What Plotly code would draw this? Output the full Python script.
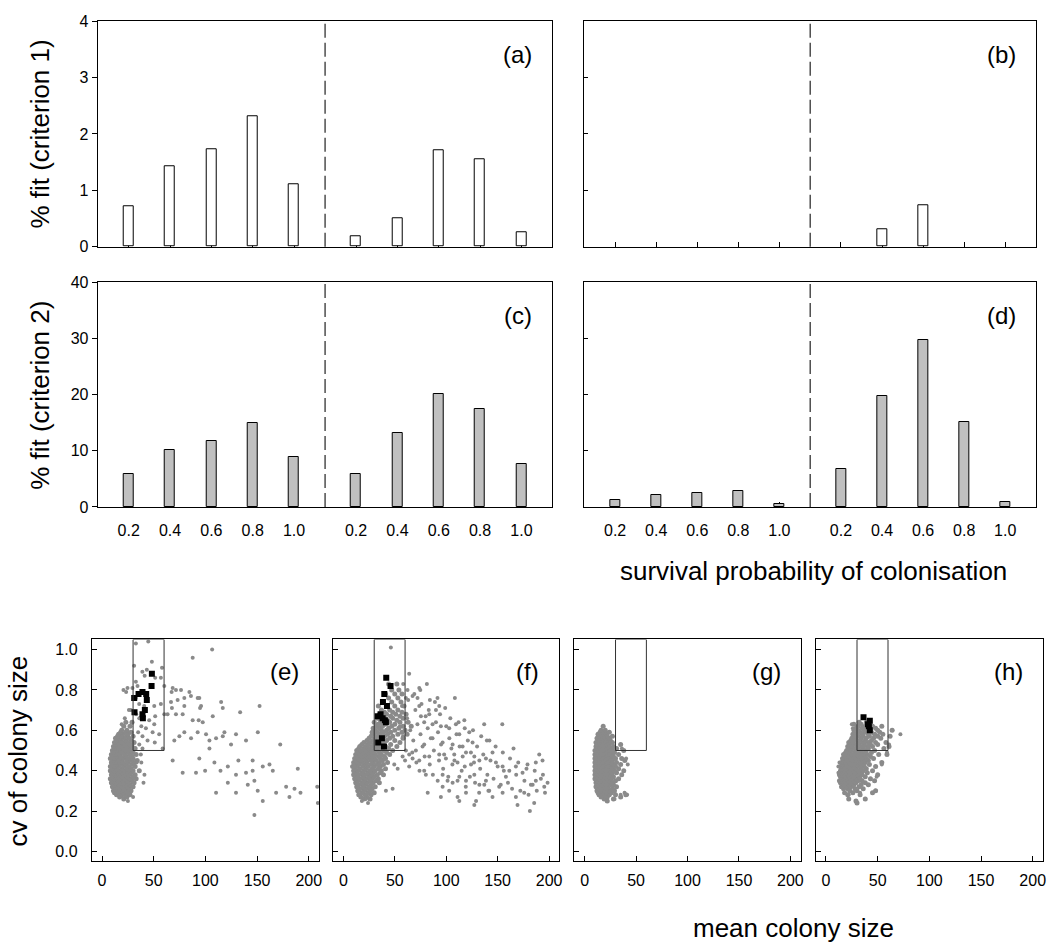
import plotly.graph_objects as go

W, H = 1053, 950
FONT = "Liberation Sans, Arial, sans-serif"

# ---------------------------------------------------------------- bar data
prob_labels = ["0.2", "0.4", "0.6", "0.8", "1.0"]
# each panel: five survival probabilities for the left group, then five for the right group
crit1_a = [0.71, 1.42, 1.72, 2.32, 1.10, 0.19, 0.51, 1.71, 1.55, 0.25]
crit1_b = [0.0, 0.0, 0.0, 0.0, 0.0, 0.0, 0.30, 0.74, 0.0, 0.0]
crit2_c = [5.8, 10.1, 11.7, 15.0, 8.9, 5.9, 13.2, 20.1, 17.5, 7.6]
crit2_d = [1.3, 2.1, 2.4, 2.9, 0.5, 6.7, 19.7, 29.7, 15.1, 0.9]

# ---------------------------------------------------------------- scatter data
# acceptance window for the mean / cv of colony size
window_mean = [30, 60]
window_cv_min = 0.5

# dense clouds, stored as cv -> list of mean colony sizes
e_core = {
    0.26: [21], 0.27: [17, 24], 0.28: [14, 19, 22, 27], 0.29: [12, 16, 20, 25],
    0.30: [11, 15, 18, 23, 28], 0.31: [13, 17, 21, 26], 0.32: [10, 14, 19, 24, 30],
    0.33: [12, 16, 22, 27], 0.34: [9, 13, 18, 21, 25, 31], 0.35: [11, 15, 20, 24, 29],
    0.36: [8, 12, 17, 22, 27, 33], 0.37: [10, 14, 19, 24, 30], 0.38: [9, 13, 16, 21, 26, 32],
    0.39: [11, 15, 19, 23, 28], 0.40: [8, 12, 17, 22, 25, 30, 36], 0.41: [10, 14, 19, 24, 28],
    0.42: [8, 12, 16, 21, 26, 32], 0.43: [10, 14, 18, 23, 29], 0.44: [9, 13, 17, 20, 25, 31],
    0.45: [11, 15, 19, 24, 28, 34], 0.46: [8, 12, 16, 21, 26, 30], 0.47: [10, 14, 18, 23, 29],
    0.48: [9, 13, 17, 22, 27, 33], 0.49: [11, 15, 20, 25, 30], 0.50: [10, 14, 18, 23, 28],
    0.51: [12, 16, 21, 26, 32], 0.52: [11, 15, 19, 24, 29], 0.53: [13, 17, 22, 27],
    0.54: [12, 16, 20, 25, 31], 0.55: [14, 18, 23, 28], 0.56: [13, 17, 21, 26],
    0.57: [15, 19, 24, 30], 0.58: [16, 20, 25], 0.59: [18, 23, 28], 0.60: [19, 24],
    0.62: [21, 27], 0.64: [23, 29],
}
e_spread = [
    (44.7, 1.04), (32.7, 1.03), (106.5, 1.00), (87.7, 0.96), (48.2, 0.94), (58.0, 0.91),
    (31.0, 0.92), (43.3, 0.90), (39.0, 0.89), (51.4, 0.86), (56.9, 0.86), (41.2, 0.87),
    (32.7, 0.84), (24.6, 0.81), (29.4, 0.81), (34.3, 0.82), (60.2, 0.82), (68.3, 0.81),
    (71.5, 0.80), (76.4, 0.80), (84.5, 0.79), (67.3, 0.79), (79.6, 0.76), (86.0, 0.77),
    (94.1, 0.76), (92.5, 0.76), (73.1, 0.75), (66.7, 0.74), (56.9, 0.73), (50.5, 0.72),
    (40.8, 0.72), (35.9, 0.73), (27.8, 0.70), (20.7, 0.80), (23.3, 0.79), (115.2, 0.74),
    (116.8, 0.71), (107.1, 0.67), (95.8, 0.72), (94.8, 0.71), (79.6, 0.72), (67.6, 0.71),
    (71.5, 0.68), (78.0, 0.68), (87.7, 0.65), (93.5, 0.65), (97.4, 0.64), (133.6, 0.69),
    (152.4, 0.72), (150.7, 0.59), (172.4, 0.53), (63.4, 0.68), (60.2, 0.68), (51.4, 0.67),
    (45.6, 0.65), (50.5, 0.63), (42.4, 0.61), (34.9, 0.59), (48.9, 0.59), (55.3, 0.58),
    (39.1, 0.57), (44.0, 0.55), (36.0, 0.53), (51.0, 0.54), (31.0, 0.51), (58.6, 0.51),
    (69.9, 0.55), (74.8, 0.57), (79.6, 0.59), (86.1, 0.56), (92.5, 0.59), (100.6, 0.58),
    (103.9, 0.55), (110.3, 0.56), (118.4, 0.59), (124.8, 0.53), (129.6, 0.58), (139.3, 0.55),
    (116.8, 0.57), (68.3, 0.45), (78.0, 0.39), (90.9, 0.39), (94.1, 0.46), (108.7, 0.44),
    (114.6, 0.40), (121.7, 0.42), (121.7, 0.34), (110.3, 0.29), (129.6, 0.29), (131.9, 0.45),
    (139.3, 0.39), (145.7, 0.45), (145.7, 0.40), (147.4, 0.35), (150.6, 0.30), (155.5, 0.25),
    (147.4, 0.18), (155.5, 0.42), (162.0, 0.43), (165.2, 0.40), (168.4, 0.29), (178.1, 0.32),
    (181.3, 0.27), (186.2, 0.31), (189.4, 0.41), (192.0, 0.29), (208.2, 0.32), (208.8, 0.24),
    (141.0, 0.33), (129.6, 0.38), (99.7, 0.40), (103.9, 0.51), (35.9, 0.40), (40.1, 0.34),
    (33.5, 0.44), (37.5, 0.48), (39.1, 0.51), (32.7, 0.76), (22.0, 0.66), (26.0, 0.70),
    (19.0, 0.63), (38.0, 0.62), (29.0, 0.64), (33.0, 0.68), (42.0, 0.70), (36.0, 0.66),
    (30.0, 0.27), (25.0, 0.25), (38.0, 0.44), (41.0, 0.38),
]
e_hits = [
    (48.2, 0.88), (47.9, 0.82), (31.1, 0.76), (35.3, 0.78), (39.1, 0.79), (42.7, 0.78),
    (43.3, 0.75), (31.4, 0.69), (41.4, 0.70), (39.1, 0.68), (39.5, 0.66),
]

f_core = {
    0.26: [20, 26], 0.27: [17, 23], 0.28: [15, 21, 27], 0.29: [18, 24, 30],
    0.30: [14, 20, 26], 0.31: [16, 22, 28], 0.32: [13, 19, 25, 31], 0.33: [15, 21, 27],
    0.34: [12, 18, 23, 29, 35], 0.35: [14, 20, 26, 32], 0.36: [11, 16, 22, 28, 34],
    0.37: [13, 19, 25, 30], 0.38: [10, 15, 21, 27, 33, 39], 0.39: [12, 18, 24, 29, 36],
    0.40: [10, 14, 20, 26, 31, 37], 0.41: [11, 16, 22, 28, 34, 41],
    0.42: [9, 13, 19, 24, 30, 36], 0.43: [11, 15, 21, 27, 33, 39],
    0.44: [10, 14, 18, 23, 29, 35, 43], 0.45: [12, 17, 22, 27, 32, 38],
    0.46: [11, 15, 20, 25, 30, 36, 41], 0.47: [13, 18, 23, 28, 34, 40],
    0.48: [12, 16, 21, 26, 31, 37, 45], 0.49: [14, 19, 24, 29, 35, 42],
    0.50: [13, 17, 22, 27, 33, 39, 48], 0.51: [15, 20, 25, 31, 37, 44],
    0.52: [16, 22, 28, 34, 41, 52], 0.53: [18, 24, 30, 36, 46], 0.54: [20, 26, 32, 39, 55],
    0.55: [23, 29, 35, 42, 50], 0.56: [25, 31, 38, 45, 58], 0.57: [27, 34, 40, 48],
    0.58: [30, 36, 43, 53, 62], 0.59: [28, 33, 39, 46, 57], 0.60: [31, 37, 42, 50, 60],
    0.61: [29, 35, 44, 54], 0.62: [32, 38, 47, 58, 66], 0.63: [34, 41, 50],
    0.64: [30, 37, 45, 55, 63], 0.65: [36, 43, 52], 0.66: [33, 40, 48, 58],
    0.67: [38, 46, 55], 0.68: [35, 42, 51, 61], 0.69: [40, 48, 57], 0.70: [37, 45, 53],
    0.72: [34, 42, 50, 59], 0.74: [39, 47, 56], 0.76: [44, 53], 0.78: [41, 50, 57],
    0.80: [47, 54], 0.83: [44, 52],
}
f_spread = [
    (46.2, 1.01), (64.0, 0.88), (58.2, 0.83), (73.8, 0.81), (74.8, 0.80), (81.2, 0.83),
    (62.4, 0.80), (60.8, 0.76), (67.3, 0.77), (72.1, 0.76), (84.1, 0.75), (91.5, 0.76),
    (108.4, 0.76), (93.2, 0.72), (90.0, 0.70), (73.8, 0.72), (75.4, 0.67), (83.5, 0.68),
    (78.6, 0.64), (86.7, 0.63), (94.8, 0.62), (102.9, 0.61), (109.4, 0.63), (117.6, 0.65),
    (112.7, 0.58), (122.4, 0.59), (136.9, 0.63), (154.5, 0.63), (139.5, 0.55), (165.4, 0.51),
    (125.6, 0.54), (115.9, 0.52), (106.2, 0.53), (96.5, 0.54), (86.7, 0.56), (78.6, 0.53),
    (70.5, 0.50), (64.0, 0.48), (73.8, 0.45), (83.5, 0.47), (93.2, 0.48), (99.7, 0.46),
    (107.8, 0.48), (111.0, 0.44), (119.2, 0.49), (127.3, 0.47), (132.2, 0.45), (124.1, 0.43),
    (138.6, 0.46), (145.0, 0.49), (148.3, 0.44), (154.8, 0.42), (161.3, 0.40), (158.0, 0.37),
    (167.7, 0.42), (174.2, 0.39), (179.0, 0.43), (187.1, 0.44), (190.4, 0.48), (193.6, 0.45),
    (198.5, 0.34), (195.3, 0.32), (187.1, 0.35), (182.3, 0.33), (175.8, 0.29), (167.7, 0.27),
    (169.3, 0.23), (181.3, 0.20), (185.5, 0.24), (154.8, 0.29), (151.5, 0.32), (141.8, 0.30),
    (138.6, 0.35), (132.2, 0.33), (129.0, 0.25), (127.3, 0.23), (119.2, 0.29), (112.7, 0.25),
    (111.0, 0.27), (102.9, 0.30), (94.8, 0.27), (96.5, 0.32), (91.7, 0.35), (96.5, 0.38),
    (101.3, 0.35), (106.2, 0.34), (112.7, 0.37), (119.2, 0.35), (127.3, 0.38), (80.2, 0.38),
    (78.6, 0.40), (82.0, 0.29), (67.3, 0.46), (60.8, 0.50), (57.6, 0.47), (49.5, 0.43),
    (52.8, 0.41), (41.4, 0.30), (47.9, 0.31), (21.9, 0.26), (18.0, 0.25), (24.0, 0.24),
    (55, 0.62), (58, 0.57), (62, 0.66), (65, 0.60), (68, 0.55), (70, 0.70), (72, 0.63),
    (75, 0.58), (77, 0.52), (80, 0.67), (82, 0.61), (85, 0.56), (88, 0.50), (90, 0.64),
    (92, 0.59), (95, 0.53), (98, 0.48), (100, 0.62), (103, 0.56), (105, 0.51), (108, 0.45),
    (110, 0.58), (113, 0.52), (116, 0.47), (118, 0.42), (121, 0.55), (124, 0.49), (127, 0.44),
    (130, 0.52), (133, 0.41), (136, 0.48), (140, 0.38), (143, 0.45), (146, 0.36), (150, 0.42),
    (153, 0.33), (156, 0.40), (160, 0.34), (164, 0.31), (168, 0.38), (172, 0.30), (176, 0.35),
    (180, 0.28), (184, 0.33), (188, 0.30), (192, 0.36), (196, 0.29), (60, 0.45), (64, 0.42),
    (67, 0.49), (71, 0.44), (74, 0.40), (79, 0.47), (84, 0.43), (87, 0.38), (93, 0.45),
    (97, 0.41), (102, 0.37), (106, 0.43), (111, 0.35), (115, 0.40), (119, 0.32), (123, 0.37),
    (128, 0.34), (132, 0.29), (137, 0.33), (141, 0.30), (145, 0.27), (57, 0.72), (63, 0.75),
    (69, 0.78), (76, 0.73), (83, 0.70), (89, 0.74), (94, 0.68), (99, 0.71), (104, 0.66),
    (112, 0.64), (118, 0.61), (126, 0.60), (134, 0.57), (142, 0.55), (148, 0.52), (155, 0.49),
    (162, 0.46), (170, 0.44), (178, 0.41), (186, 0.40), (194, 0.38),
]
f_hits = [
    (41.7, 0.86), (45.9, 0.82), (39.8, 0.78), (38.5, 0.74), (42.4, 0.72), (36.2, 0.68),
    (33.3, 0.67), (38.2, 0.66), (40.4, 0.65), (41.4, 0.64), (37.5, 0.56), (33.9, 0.54),
    (39.5, 0.52),
]

g_core = {
    0.25: [22], 0.26: [19, 28], 0.27: [16, 22, 35], 0.28: [14, 18, 24, 30, 40],
    0.29: [13, 17, 21, 26], 0.30: [12, 16, 20, 24, 29], 0.31: [14, 18, 22, 27],
    0.32: [11, 15, 19, 23, 31], 0.33: [13, 17, 21, 25, 28], 0.34: [11, 15, 19, 23, 27],
    0.35: [12, 16, 20, 24, 30], 0.36: [10, 14, 18, 22, 26, 33], 0.37: [12, 16, 20, 24, 28],
    0.38: [10, 14, 18, 22, 26, 36], 0.39: [11, 15, 19, 23, 27, 31],
    0.40: [10, 13, 17, 21, 25, 29, 38], 0.41: [11, 15, 19, 23, 27, 33],
    0.42: [10, 14, 18, 22, 26, 30], 0.43: [11, 15, 19, 23, 28, 35],
    0.44: [10, 14, 18, 22, 26, 31], 0.45: [11, 15, 19, 23, 27, 39],
    0.46: [10, 13, 17, 21, 25, 30, 36], 0.47: [11, 15, 19, 23, 28],
    0.48: [10, 14, 18, 22, 26, 33], 0.49: [12, 16, 20, 24, 29],
    0.50: [10, 14, 18, 22, 27, 38], 0.51: [12, 16, 20, 25, 31], 0.52: [11, 15, 19, 23, 28],
    0.53: [12, 16, 20, 24, 35], 0.54: [11, 15, 19, 23, 27], 0.55: [13, 17, 21, 25],
    0.56: [12, 16, 20, 24], 0.57: [14, 18, 22, 27], 0.58: [13, 17, 21], 0.59: [15, 19, 24],
    0.60: [16, 20], 0.62: [18],
}
g_spread = [
    (36.2, 0.51), (40.3, 0.46), (41.9, 0.43), (38.8, 0.29), (41.3, 0.28), (35.0, 0.28),
    (20.4, 0.27), (29.1, 0.26),
]

h_core = {
    0.24: [30], 0.25: [29], 0.26: [22, 38], 0.28: [21, 33], 0.29: [18, 26, 45],
    0.30: [23, 30, 48], 0.31: [17, 21, 28, 36], 0.32: [15, 19, 24, 32],
    0.33: [17, 22, 27, 34, 41], 0.34: [14, 19, 24, 29, 38],
    0.35: [13, 16, 21, 26, 31, 35, 47], 0.36: [15, 19, 24, 29, 33, 43],
    0.37: [14, 18, 22, 27, 32, 38], 0.38: [13, 16, 21, 25, 30, 35, 50],
    0.39: [15, 19, 23, 28, 33, 40], 0.40: [14, 17, 21, 26, 31, 36, 45],
    0.41: [15, 19, 24, 29, 34, 39], 0.42: [14, 18, 22, 27, 32, 37, 48],
    0.43: [16, 20, 25, 30, 35, 42], 0.44: [15, 19, 23, 28, 33, 38, 54],
    0.45: [17, 21, 26, 31, 36, 41], 0.46: [16, 20, 24, 29, 34, 39, 46],
    0.47: [18, 22, 27, 32, 37, 43], 0.48: [17, 21, 25, 30, 35, 40, 51, 59],
    0.49: [19, 23, 28, 33, 38, 44], 0.50: [20, 24, 29, 34, 39, 47],
    0.51: [22, 26, 31, 36, 41, 56], 0.52: [21, 25, 30, 35, 40, 45, 61],
    0.53: [23, 27, 32, 37, 43, 50], 0.54: [22, 26, 31, 36, 41, 48, 58],
    0.55: [24, 28, 33, 38, 44], 0.56: [25, 29, 34, 39, 46, 53],
    0.57: [27, 31, 36, 42, 50, 62], 0.58: [26, 30, 35, 41, 47, 55],
    0.59: [28, 33, 38, 44, 52], 0.60: [27, 31, 37, 43, 50, 64], 0.61: [29, 35, 41, 48],
    0.62: [31, 38, 45, 54], 0.63: [27, 34, 41], 0.64: [32, 39],
}
h_spread = [
    (72, 0.58), (64, 0.60), (61, 0.53), (59, 0.49), (54, 0.43), (49, 0.37), (48, 0.30),
    (38, 0.26), (29, 0.25), (33, 0.29), (22, 0.28), (23, 0.30), (25, 0.63), (26, 0.61),
    (12, 0.42), (13, 0.44), (12, 0.39),
]
h_hits = [(36.3, 0.665), (42.4, 0.647), (40.6, 0.63), (41.5, 0.62), (42.4, 0.60)]

mean_ticks = [0, 50, 100, 150, 200]
cv_ticks = [0.0, 0.2, 0.4, 0.6, 0.8, 1.0]


# ---------------------------------------------------------------- helpers
def unpack(rows):
    xs, ys = [], []
    for cv, means in rows.items():
        for m in means:
            xs.append(m)
            ys.append(cv)
    return xs, ys


def xdom(left, right):
    return [left / W, right / W]


def ydom(top, bottom):
    return [1 - bottom / H, 1 - top / H]


def frame(**kw):
    base = dict(showline=True, linecolor="black", linewidth=1, mirror=True,
                showgrid=False, zeroline=False, ticklen=5, tickwidth=1,
                tickcolor="black", tickfont=dict(family=FONT, size=16, color="black"))
    base.update(kw)
    return base


fig = go.Figure()

# two groups of five bars, separated by a wider gap
positions = [1, 2, 3, 4, 5, 6.5, 7.5, 8.5, 9.5, 10.5]
divider = 5.75
bar_ticktext = prob_labels + prob_labels

bar_panels = [
    ("", crit1_a, "white", (98, 554), (13.5, 243), [0, 4], 1, True, False, "(a)"),
    ("2", crit1_b, "white", (586, 1039), (13.5, 243), [0, 4], 1, False, False, "(b)"),
    ("3", crit2_c, "#c0c0c0", (98, 554), (279, 508), [0, 40], 10, True, True, "(c)"),
    ("4", crit2_d, "#c0c0c0", (586, 1039), (279, 508), [0, 40], 10, False, True, "(d)"),
]

shapes, annotations = [], []
for sfx, vals, fill, xd, yd, yr, dt, ylab, xlab, tag in bar_panels:
    # empty categories get no bar outline
    fig.add_trace(go.Bar(
        x=[p for p, v in zip(positions, vals) if v > 0],
        y=[v for v in vals if v > 0],
        width=0.24, xaxis="x" + sfx, yaxis="y" + sfx,
        marker=dict(color=fill, line=dict(color="black", width=1)),
        showlegend=False, hoverinfo="skip"))
    fig.layout["xaxis" + sfx] = frame(
        domain=xdom(*xd), anchor="y" + sfx, range=[0.25, 11.25],
        tickmode="array", tickvals=positions, ticktext=bar_ticktext,
        ticks="inside", showticklabels=xlab, ticklabelstandoff=9,
        layer="below traces")
    fig.layout["yaxis" + sfx] = frame(
        domain=ydom(*yd), anchor="x" + sfx, range=yr, dtick=dt, tick0=0,
        ticks="outside" if ylab else "inside", showticklabels=ylab,
        ticklen=5 if ylab else 4)
    shapes.append(dict(type="line", xref="x" + sfx, yref="y" + sfx + " domain",
                       x0=divider, x1=divider, y0=0, y1=1,
                       line=dict(color="#222222", width=1.2, dash="14px,5px")))
    annotations.append(dict(text=tag, xref="x" + sfx + " domain", yref="y" + sfx + " domain",
                            x=1, y=1, xanchor="right", yanchor="top", xshift=-18, yshift=-18,
                            showarrow=False, font=dict(family=FONT, size=24, color="black")))

scatter_panels = [
    ("5", e_core, e_spread, e_hits, (92, 320), True, "(e)"),
    ("6", f_core, f_spread, f_hits, (334, 561), False, "(f)"),
    ("7", g_core, g_spread, [], (576, 803), False, "(g)"),
    ("8", h_core, h_spread, h_hits, (818, 1046), False, "(h)"),
]
for sfx, core, spread, hits, xd, ylab, tag in scatter_panels:
    cx, cy = unpack(core)
    # dense part of the cloud
    fig.add_trace(go.Scatter(
        x=cx, y=cy, mode="markers", xaxis="x" + sfx, yaxis="y" + sfx,
        marker=dict(size=5, color="#8a8a8a", line=dict(width=0)),
        showlegend=False, hoverinfo="skip"))
    # scattered runs
    fig.add_trace(go.Scatter(
        x=[p[0] for p in spread], y=[p[1] for p in spread], mode="markers",
        xaxis="x" + sfx, yaxis="y" + sfx,
        marker=dict(size=4, color="#8a8a8a", line=dict(width=0)),
        showlegend=False, hoverinfo="skip"))
    if hits:
        fig.add_trace(go.Scatter(
            x=[p[0] for p in hits], y=[p[1] for p in hits], mode="markers",
            xaxis="x" + sfx, yaxis="y" + sfx,
            marker=dict(size=6, symbol="square", color="black", line=dict(width=0)),
            showlegend=False, hoverinfo="skip"))
    fig.layout["xaxis" + sfx] = frame(
        domain=xdom(*xd), anchor="y" + sfx, range=[-10, 210],
        tickmode="array", tickvals=mean_ticks, ticks="inside", ticklabelstandoff=4)
    fig.layout["yaxis" + sfx] = frame(
        domain=ydom(643, 869), anchor="x" + sfx, range=[-0.05, 1.05],
        tickmode="array", tickvals=cv_ticks, tickformat=".1f", ticks="inside",
        showticklabels=ylab, ticklabelstandoff=10)
    shapes.append(dict(type="rect", xref="x" + sfx, yref="y" + sfx,
                       x0=window_mean[0], x1=window_mean[1], y0=window_cv_min, y1=1.05,
                       line=dict(color="#333333", width=1)))
    annotations.append(dict(text=tag, xref="x" + sfx + " domain", yref="y" + sfx + " domain",
                            x=1, y=1, xanchor="right", yanchor="top", xshift=-18, yshift=-17,
                            showarrow=False, font=dict(family=FONT, size=24, color="black")))

# axis titles
titles = [
    ("% fit (criterion 1)", 40, 128, -90),
    ("% fit (criterion 2)", 40, 394, -90),
    ("survival probability of colonisation", 816, 573, 0),
    ("cv of colony size", 19, 756, -90),
    ("mean colony size", 796, 937, 0),
]
for text, px, py, ang in titles:
    annotations.append(dict(text=text, xref="paper", yref="paper", x=px / W, y=1 - py / H,
                            xanchor="center", yanchor="middle", textangle=ang,
                            showarrow=False, font=dict(family=FONT, size=26, color="black")))

fig.update_layout(
    width=W, height=H, margin=dict(l=0, r=0, t=0, b=0),
    paper_bgcolor="white", plot_bgcolor="white",
    shapes=shapes, annotations=annotations, bargap=0,
    font=dict(family=FONT, color="black"),
)

fig.write_html("out.html")
